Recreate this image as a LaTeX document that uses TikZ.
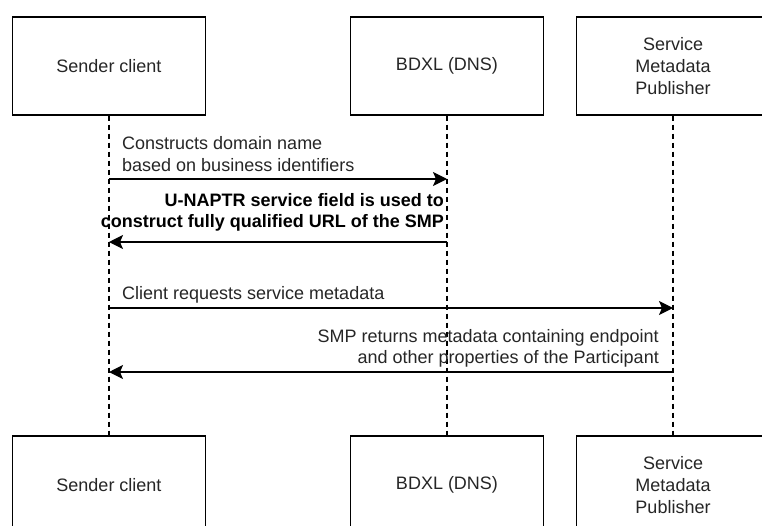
\documentclass[tikz,border=0pt]{standalone}
\usepackage{fontspec}
\setmainfont{Liberation Sans}
\usetikzlibrary{arrows.meta}
\begin{document}
\begin{tikzpicture}[x=1pt,y=-1pt,
  actor/.style={draw=black, line width=1.4pt, fill=white, minimum width=193pt, minimum height=98pt, align=center, inner sep=0pt, font=\fontsize{18}{21.6}\selectfont, text=black!85},
  life/.style={draw=black, line width=1.2pt, dash pattern=on 5pt off 4pt},
  msg/.style={draw=black, line width=1.4pt, -{Stealth[length=14pt,width=14pt,inset=3pt]}},
  lbl/.style={inner sep=0pt, font=\fontsize{18}{21.6}\selectfont, text=black!85},
]
\useasboundingbox (0,0) rectangle (762,525);
\fill[white] (0,0) rectangle (762,525);
% top actors
\node[actor] (sT) at (109,66) {Sender client};
\node[actor] (bT) at (447,66) {BDXL (DNS)};
\node[actor] (mT) at (673,66) {Service\\Metadata\\Publisher};
% bottom actors
\node[actor] (sB) at (109,485) {Sender client};
\node[actor] (bB) at (447,485) {BDXL (DNS)};
\node[actor] (mB) at (673,485) {Service\\Metadata\\Publisher};
% lifelines
\draw[life] (sT.south) -- (sB.north);
\draw[life] (bT.south) -- (bB.north);
\draw[life] (mT.south) -- (mB.north);
% message points
\coordinate (s1) at (sT.south |- 0,179);
\coordinate (b1) at (bT.south |- 0,179);
\coordinate (s2) at (sT.south |- 0,242);
\coordinate (b2) at (bT.south |- 0,242);
\coordinate (s3) at (sT.south |- 0,308);
\coordinate (m3) at (mT.south |- 0,308);
\coordinate (s4) at (sT.south |- 0,372);
\coordinate (m4) at (mT.south |- 0,372);
% messages
\draw[msg] (s1) -- (b1);
\node[lbl, anchor=west, align=left] (l1) at (122,154) {Constructs domain name\\based on business identifiers};
\draw[msg] (b2) -- (s2);
\node[lbl, anchor=east, align=right, font=\fontsize{18}{21.6}\selectfont\bfseries, text=black] (l2) at (444,212.5) {U-NAPTR service field is used to\\construct fully qualified URL of the SMP};
\draw[msg] (s3) -- (m3);
\node[lbl, anchor=west, align=left] (l3) at (122,295) {Client requests service metadata};
\draw[msg] (m4) -- (s4);
\node[lbl, anchor=east, align=right] (l4) at (659,348.5) {SMP returns metadata containing endpoint\\and other properties of the Participant};
\end{tikzpicture}
\end{document}
